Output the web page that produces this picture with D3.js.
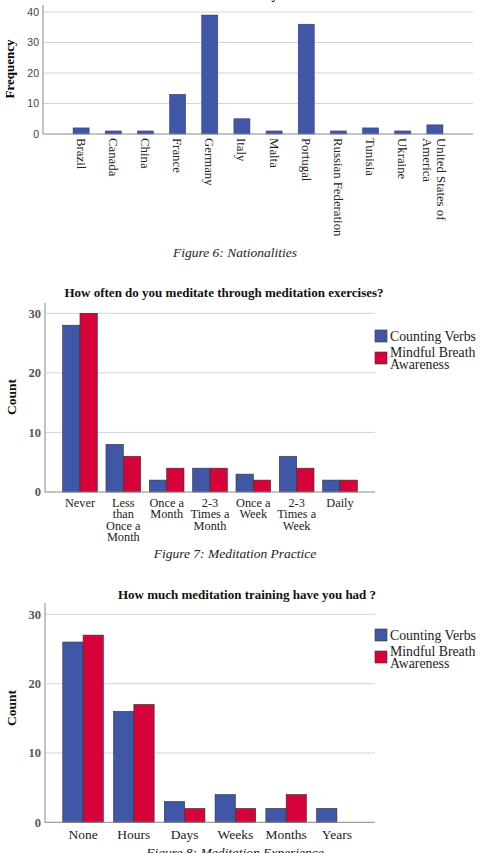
<!DOCTYPE html>
<html>
<head>
<meta charset="utf-8">
<script src="https://cdn.jsdelivr.net/npm/d3@7"></script>
<style>
  body { margin: 0; background: #fff; }
  svg { display: block; }
  .serif { font-family: "Liberation Serif", "Times New Roman", serif; }
</style>
</head>
<body>
<div id="d3-container"></div>
<script>
// ---------------- data ----------------
const countries = ["Brazil", "Canada", "China", "France", "Germany", "Italy", "Malta",
  "Portugal", "Russian Federation", "Tunisia", "Ukraine", "United States of America"];
const countryFreq = [2, 1, 1, 13, 39, 5, 1, 36, 1, 2, 1, 3];
const freqTicks = [0, 10, 20, 30, 40];

const seriesNames = ["Counting Verbs", "Mindful Breath Awareness"];

const practiceCats = ["Never", "Less than Once a Month", "Once a Month", "2-3 Times a Month",
  "Once a Week", "2-3 Times a Week", "Daily"];
const practiceCounting = [28, 8, 2, 4, 3, 6, 2];
const practiceMindful = [30, 6, 4, 4, 2, 4, 2];

const trainingCats = ["None", "Hours", "Days", "Weeks", "Months", "Years"];
const trainingCounting = [26, 16, 3, 4, 2, 2];
const trainingMindful = [27, 17, 2, 2, 4, 0];

const countTicks = [0, 10, 20, 30];

// labels that wrap onto several lines
const practiceLines = [["Never"], ["Less", "than", "Once a", "Month"], ["Once a", "Month"],
  ["2-3", "Times a", "Month"], ["Once a", "Week"], ["2-3", "Times a", "Week"], ["Daily"]];

const width = 492;
const height = 853;
const blue = "#3f57a6";
const red = "#d8023a";
const grid = "#d4d4d4";

const svg = d3.select('#d3-container')
  .append('svg')
  .attr('width', width)
  .attr('height', height);

///////////////////////// Figure 6: Nationalities /////////////////////////

const x1 = d3.scaleBand()
  .domain(countries)
  .range([65, 451])
  .paddingInner(0.5)
  .paddingOuter(0.25);

const y1 = d3.scaleLinear()
  .domain([0, 40])
  .range([134, 12]);

// chart title, almost entirely above the page edge
svg.append("text")
  .attr("class", "serif")
  .attr("x", 247).attr("y", -1)
  .attr("text-anchor", "middle")
  .attr("font-weight", "bold")
  .attr("font-size", "13px")
  .text("Nationality");

svg.append("g").selectAll("line")
  .data(freqTicks.filter(d => d !== 0))
  .join("line")
  .attr("x1", 43).attr("x2", 473)
  .attr("y1", d => y1(d)).attr("y2", d => y1(d))
  .attr("stroke", grid);

svg.append("g").selectAll("rect")
  .data(countryFreq)
  .join("rect")
  .attr("x", (d, i) => x1(countries[i]))
  .attr("width", x1.bandwidth())
  .attr("y", d => y1(d))
  .attr("height", d => y1(0) - y1(d))
  .attr("fill", blue)
  .attr("stroke", "#2c3566")
  .attr("stroke-width", 0.5);

// axes lines
svg.append("line").attr("x1", 43).attr("x2", 43).attr("y1", 5).attr("y2", y1(0))
  .attr("stroke", "#888");
svg.append("line").attr("x1", 43).attr("x2", 473).attr("y1", y1(0)).attr("y2", y1(0))
  .attr("stroke", "#888");

svg.append("g").selectAll("text")
  .data(freqTicks)
  .join("text")
  .attr("x", 39)
  .attr("y", d => y1(d))
  .attr("dy", "0.35em")
  .attr("text-anchor", "end")
  .attr("font-family", "Liberation Sans, Arial, sans-serif")
  .attr("font-size", "10.5px")
  .attr("fill", "#444")
  .text(d => d);

svg.append("text")
  .attr("class", "serif")
  .attr("transform", "translate(14,69) rotate(-90)")
  .attr("text-anchor", "middle")
  .attr("font-weight", "bold")
  .attr("font-size", "13px")
  .text("Frequency");

// rotated country labels
const countryLabels = svg.append("g").selectAll("text")
  .data(countries)
  .join("text")
  .attr("class", "serif")
  .attr("transform", d => `translate(${x1(d) + x1.bandwidth() / 2},138) rotate(90)`)
  .attr("font-size", "12.8px")
  .attr("fill", "#222");

countryLabels.each(function(d) {
  const lines = d === "United States of America" ? ["United States of", "America"] : [d];
  const t = d3.select(this);
  lines.forEach((l, j) => {
    t.append("tspan")
      .attr("x", 0)
      .attr("dy", j === 0 ? (0.35 - (lines.length - 1) * 0.55) + "em" : "1.1em")
      .text(l);
  });
});

svg.append("text")
  .attr("class", "serif")
  .attr("x", 235).attr("y", 257)
  .attr("text-anchor", "middle")
  .attr("font-style", "italic")
  .attr("font-size", "13.5px")
  .attr("fill", "#222")
  .text("Figure 6: Nationalities");

///////////////////////// grouped bar charts /////////////////////////

function groupedChart(opts) {
  const x = d3.scaleBand()
    .domain(opts.cats)
    .range(opts.xRange)
    .paddingInner(0.2)
    .paddingOuter(0.1);

  const xInner = d3.scaleBand()
    .domain(seriesNames)
    .range([0, x.bandwidth()]);

  const y = d3.scaleLinear()
    .domain([0, 30])
    .range([opts.y0, opts.y30]);

  svg.append("text")
    .attr("class", "serif")
    .attr("x", opts.titleX).attr("y", opts.titleY)
    .attr("text-anchor", "middle")
    .attr("font-weight", "bold")
    .attr("font-size", "13px")
    .attr("fill", "#111")
    .text(opts.title);

  // grid
  svg.append("g").selectAll("line")
    .data(countTicks.filter(d => d !== 0))
    .join("line")
    .attr("x1", 45).attr("x2", 375)
    .attr("y1", d => y(d)).attr("y2", d => y(d))
    .attr("stroke", grid);

  const rows = opts.cats.map((c, i) => ({ cat: c, values: [opts.a[i], opts.b[i]] }));

  svg.append("g").selectAll("g")
    .data(rows)
    .join("g")
    .attr("transform", d => `translate(${x(d.cat)},0)`)
    .selectAll("rect")
    .data(d => d.values.map((v, k) => ({ key: seriesNames[k], v: v })))
    .join("rect")
    .filter(d => d.v > 0)
    .attr("x", d => xInner(d.key))
    .attr("width", xInner.bandwidth())
    .attr("y", d => y(d.v))
    .attr("height", d => y(0) - y(d.v))
    .attr("fill", d => d.key === seriesNames[0] ? blue : red)
    .attr("stroke", "#333")
    .attr("stroke-width", 0.6);

  svg.append("line").attr("x1", 45).attr("x2", 45).attr("y1", opts.axisTop).attr("y2", y(0))
    .attr("stroke", "#888");
  svg.append("line").attr("x1", 45).attr("x2", 375).attr("y1", y(0)).attr("y2", y(0))
    .attr("stroke", "#888");

  svg.append("g").selectAll("text")
    .data(countTicks)
    .join("text")
    .attr("class", "serif")
    .attr("x", 41)
    .attr("y", d => y(d))
    .attr("dy", "0.35em")
    .attr("text-anchor", "end")
    .attr("font-size", "12.5px")
    .attr("font-weight", "bold")
    .attr("fill", "#555")
    .text(d => d);

  svg.append("text")
    .attr("class", "serif")
    .attr("transform", `translate(16,${opts.countY}) rotate(-90)`)
    .attr("text-anchor", "middle")
    .attr("font-weight", "bold")
    .attr("font-size", "13.5px")
    .attr("fill", "#111")
    .text("Count");

  // category labels
  const lab = svg.append("g").selectAll("text")
    .data(opts.cats)
    .join("text")
    .attr("class", "serif")
    .attr("x", d => x(d) + x.bandwidth() / 2)
    .attr("y", opts.labelY)
    .attr("text-anchor", "middle")
    .attr("font-size", opts.labelSize)
    .attr("fill", "#222");

  lab.each(function(d, i) {
    const lines = opts.lines ? opts.lines[i] : [d];
    const t = d3.select(this);
    lines.forEach((l, j) => {
      t.append("tspan")
        .attr("x", x(d) + x.bandwidth() / 2)
        .attr("dy", j === 0 ? 0 : opts.lineH)
        .text(l);
    });
  });

  // legend
  const lg = svg.append("g").attr("transform", `translate(375,${opts.legendY})`);
  lg.append("rect").attr("x", 0).attr("y", 0).attr("width", 12).attr("height", 12)
    .attr("fill", blue).attr("stroke", "#333").attr("stroke-width", 0.6);
  lg.append("text").attr("class", "serif").attr("x", 15).attr("y", 10.5)
    .attr("font-size", "13.8px").attr("fill", "#222").text(seriesNames[0]);
  lg.append("rect").attr("x", 0).attr("y", 22).attr("width", 12).attr("height", 12)
    .attr("fill", red).attr("stroke", "#333").attr("stroke-width", 0.6);
  const t2 = lg.append("text").attr("class", "serif").attr("y", 26.5)
    .attr("font-size", "13.8px").attr("fill", "#222");
  t2.append("tspan").attr("x", 15).text("Mindful Breath");
  t2.append("tspan").attr("x", 15).attr("dy", 12.3).text("Awareness");

  svg.append("text")
    .attr("class", "serif")
    .attr("x", 235).attr("y", opts.captionY)
    .attr("text-anchor", "middle")
    .attr("font-style", "italic")
    .attr("font-size", "13.5px")
    .attr("fill", "#222")
    .text(opts.caption);
}

///////////////////////// Figure 7: Meditation Practice /////////////////////////
groupedChart({
  cats: practiceCats,
  a: practiceCounting,
  b: practiceMindful,
  lines: practiceLines,
  xRange: [58.3, 361.7],
  y0: 492, y30: 313.3, axisTop: 303,
  title: "How often do you meditate through meditation exercises?",
  titleX: 224, titleY: 297,
  countY: 397,
  labelY: 506.5, labelSize: "12.3px", lineH: 11.6,
  legendY: 330,
  caption: "Figure 7: Meditation Practice", captionY: 558
});

///////////////////////// Figure 8: Meditation Experience /////////////////////////
groupedChart({
  cats: trainingCats,
  a: trainingCounting,
  b: trainingMindful,
  xRange: [57.7, 362.3],
  y0: 822.3, y30: 614.3, axisTop: 603,
  title: "How much meditation training have you had ?",
  titleX: 247, titleY: 599,
  countY: 708,
  labelY: 839, labelSize: "13.5px", lineH: 12,
  legendY: 629,
  caption: "Figure 8: Meditation Experience", captionY: 857
});
</script>
</body>
</html>
